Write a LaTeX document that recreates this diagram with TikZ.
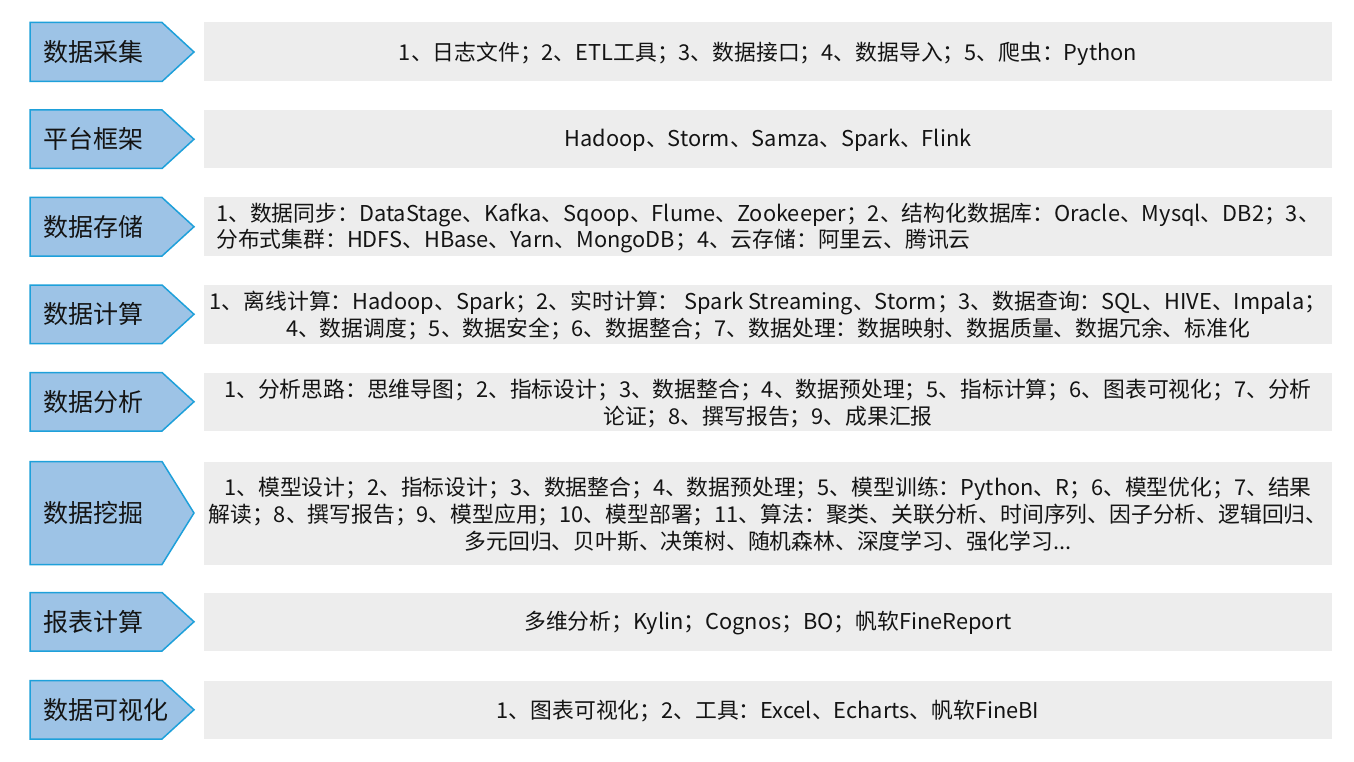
\documentclass[tikz,border=0pt]{standalone}
\usepackage{fontspec}
\setmainfont{Noto Sans CJK SC}
\definecolor{stagefill}{RGB}{157,195,230}
\definecolor{stageline}{RGB}{30,160,218}
\definecolor{panelfill}{RGB}{237,237,237}
\definecolor{txt}{RGB}{20,20,20}
\tikzset{
  stage/.style={draw=stageline, fill=stagefill, line width=1.5pt, line join=miter},
  panel/.style={fill=panelfill},
  stagelabel/.style={anchor=west, inner sep=0pt, text=txt, font=\fontsize{25}{30}\selectfont},
  bodytext/.style={inner sep=0pt, text=txt, font=\fontsize{21.8}{26.8}\selectfont, align=center, yshift=-1.5pt},
  bodyleft/.style={inner sep=0pt, text=txt, font=\fontsize{21.8}{26.8}\selectfont, align=left, anchor=west, yshift=-1pt},
}
\newcommand\stagerow[4]{% name, top, bottom, label
  \draw[stage] (30,#2) -- (162,#2) -- (194,{(#2+#3)/2}) -- (162,#3) -- (30,#3) -- cycle;
  \node[stagelabel] (#1) at (43,{(#2+#3)/2}) {#4};
  \fill[panel] (204,#2) rectangle (1332,#3);
  \coordinate (#1c) at (768,{(#2+#3)/2});
}
\begin{document}
\begin{tikzpicture}[x=1pt,y=-1pt]
\useasboundingbox (0,0) rectangle (1354,762);
\fill[white] (0,0) rectangle (1354,762);

\stagerow{r1}{22.5}{81.5}{数据采集}
\stagerow{r2}{110}{168.5}{平台框架}
\stagerow{r3}{197.5}{256}{数据存储}
\stagerow{r4}{285}{343.5}{数据计算}
\stagerow{r5}{372.5}{431}{数据分析}
\stagerow{r6}{461.5}{564.5}{数据挖掘}
\stagerow{r7}{592.5}{651}{报表计算}
\stagerow{r8}{680.5}{739}{数据可视化}

\node[bodytext] (t1) at (r1c) {1、日志文件；2、ETL工具；3、数据接口；4、数据导入；5、爬虫：Python};
\node[bodytext] (t2) at (r2c) {Hadoop、Storm、Samza、Spark、Flink};
\node[bodyleft] (t3) at (216,227) {1、数据同步：DataStage、Kafka、Sqoop、Flume、Zookeeper；2、结构化数据库：Oracle、Mysql、DB2；3、\\分布式集群：HDFS、HBase、Yarn、MongoDB；4、云存储：阿里云、腾讯云};
\node[bodytext] (t4) at (r4c) {1、离线计算：Hadoop、Spark；2、实时计算： Spark Streaming、Storm；3、数据查询：SQL、HIVE、Impala；\\4、数据调度；5、数据安全；6、数据整合；7、数据处理：数据映射、数据质量、数据冗余、标准化};
\node[bodytext] (t5) at (r5c) {1、分析思路：思维导图；2、指标设计；3、数据整合；4、数据预处理；5、指标计算；6、图表可视化；7、分析\\论证；8、撰写报告；9、成果汇报};
\node[bodytext] (t6) at (r6c) {1、模型设计；2、指标设计；3、数据整合；4、数据预处理；5、模型训练：Python、R；6、模型优化；7、结果\\解读；8、撰写报告；9、模型应用；10、模型部署；11、算法：聚类、关联分析、时间序列、因子分析、逻辑回归、\\多元回归、贝叶斯、决策树、随机森林、深度学习、强化学习...};
\node[bodytext] (t7) at (r7c) {多维分析；Kylin；Cognos；BO；帆软FineReport};
\node[bodytext] (t8) at (r8c) {1、图表可视化；2、工具：Excel、Echarts、帆软FineBI};
\end{tikzpicture}
\end{document}
